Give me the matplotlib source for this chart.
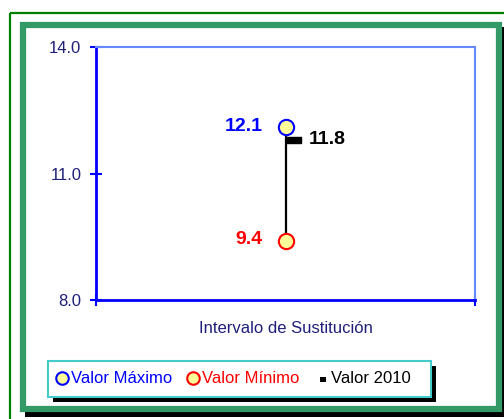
import matplotlib
matplotlib.use("Agg")
import matplotlib.pyplot as plt
from matplotlib.patches import Rectangle
from matplotlib.lines import Line2D

plt.rcParams["font.family"] = ["Liberation Sans", "DejaVu Sans"]

# data
category = ["Intervalo de Sustitución"]
valor_max = [12.1]
valor_min = [9.4]
valor_2010 = [11.8]
y_ticks = [8.0, 11.0, 14.0]
legend_labels = ["Valor Máximo", "Valor Mínimo", "Valor 2010"]

W, H = 504, 419
fig = plt.figure(figsize=(W / 100, H / 100), dpi=100)

# overlay in pixel coords (y down) for frames and legend
bg = fig.add_axes([0, 0, 1, 1])
bg.set_xlim(0, W)
bg.set_ylim(H, 0)
bg.axis("off")

# outer thin green border
bg.add_patch(Rectangle((10, 13), 520, 430, fill=False, edgecolor="#008000", lw=1.6))
# shadow of inner frame
bg.add_patch(Rectangle((25, 27), 483, 390, fill=True, facecolor="black", edgecolor="none"))
# inner thick frame
bg.add_patch(Rectangle((20, 22), 482, 390, facecolor="white", edgecolor="none"))
bg.add_patch(Rectangle((23, 25), 476, 384, fill=False, edgecolor="#339966", lw=4.5))

# legend box with shadow
bg.add_patch(Rectangle((53, 366), 383, 36, facecolor="black", edgecolor="none"))
bg.add_patch(Rectangle((48, 361), 383, 36, facecolor="white", edgecolor="#44cccc", lw=1.5))
ly = 378
bg.add_line(Line2D([62], [ly], marker="o", ms=9, mfc="#ffff99", mec="blue", mew=1.5))
bg.text(71, ly, legend_labels[0], color="blue", fontsize=12, va="center", ha="left")
bg.add_line(Line2D([193], [ly], marker="o", ms=9, mfc="#ffff99", mec="red", mew=1.5))
bg.text(202, ly, legend_labels[1], color="red", fontsize=12, va="center", ha="left")
bg.add_patch(Rectangle((320, 377), 6, 5, facecolor="black", edgecolor="none"))
bg.text(331, ly, legend_labels[2], color="black", fontsize=12, va="center", ha="left")

# main plot
x0, x1, y0, y1 = 96, 475, 47, 300
ax = fig.add_axes([x0 / W, 1 - y1 / H, (x1 - x0) / W, (y1 - y0) / H])
ax.set_facecolor("none")
x = list(range(len(category)))

ax.vlines(x, valor_min, valor_max, color="black", lw=1.6, zorder=2)
ax.plot(x, valor_max, "o", ms=11, mfc="#ffff99", mec="blue", mew=1.5, zorder=3)
ax.plot(x, valor_min, "o", ms=11, mfc="#ffff99", mec="red", mew=1.5, zorder=3)
rect = [(0, -0.22), (1, -0.22), (1, 0.22), (0, 0.22), (0, -0.22)]
ax.plot(x, valor_2010, ls="none", marker=rect, ms=22, mfc="black", mec="black", zorder=4)

for xi, v in zip(x, valor_max):
    ax.annotate(f"{v:.1f}", (xi, v), textcoords="offset pixels", xytext=(-23, 1),
                ha="right", va="center", color="blue", fontsize=14, fontweight="bold")
for xi, v in zip(x, valor_min):
    ax.annotate(f"{v:.1f}", (xi, v), textcoords="offset pixels", xytext=(-23, 1),
                ha="right", va="center", color="red", fontsize=14, fontweight="bold")
for xi, v in zip(x, valor_2010):
    ax.annotate(f"{v:.1f}", (xi, v), textcoords="offset pixels", xytext=(23, 0),
                ha="left", va="center", color="black", fontsize=14, fontweight="bold")

ax.set_xlim(-0.5, 0.5)
ax.set_ylim(8, 14)
ax.set_yticks(y_ticks)
ax.set_yticklabels([f"{t:.1f}" for t in y_ticks])
ax.set_xticks([-0.5, 0.5])
ax.set_xticklabels([])
ax.tick_params(axis="y", direction="inout", length=9, width=1.5, color="blue",
               labelcolor="#1f1f7a", labelsize=12, pad=6)
ax.tick_params(axis="x", direction="inout", length=9, width=1.5, color="blue")
ax.set_xlabel(category[0], color="#1f1f7a", fontsize=12, labelpad=7)

for side in ["left", "bottom"]:
    ax.spines[side].set_color("blue")
    ax.spines[side].set_linewidth(2)
for side in ["top", "right"]:
    ax.spines[side].set_color("#6688ff")
    ax.spines[side].set_linewidth(1.5)

fig.savefig("out.png", dpi=100)
